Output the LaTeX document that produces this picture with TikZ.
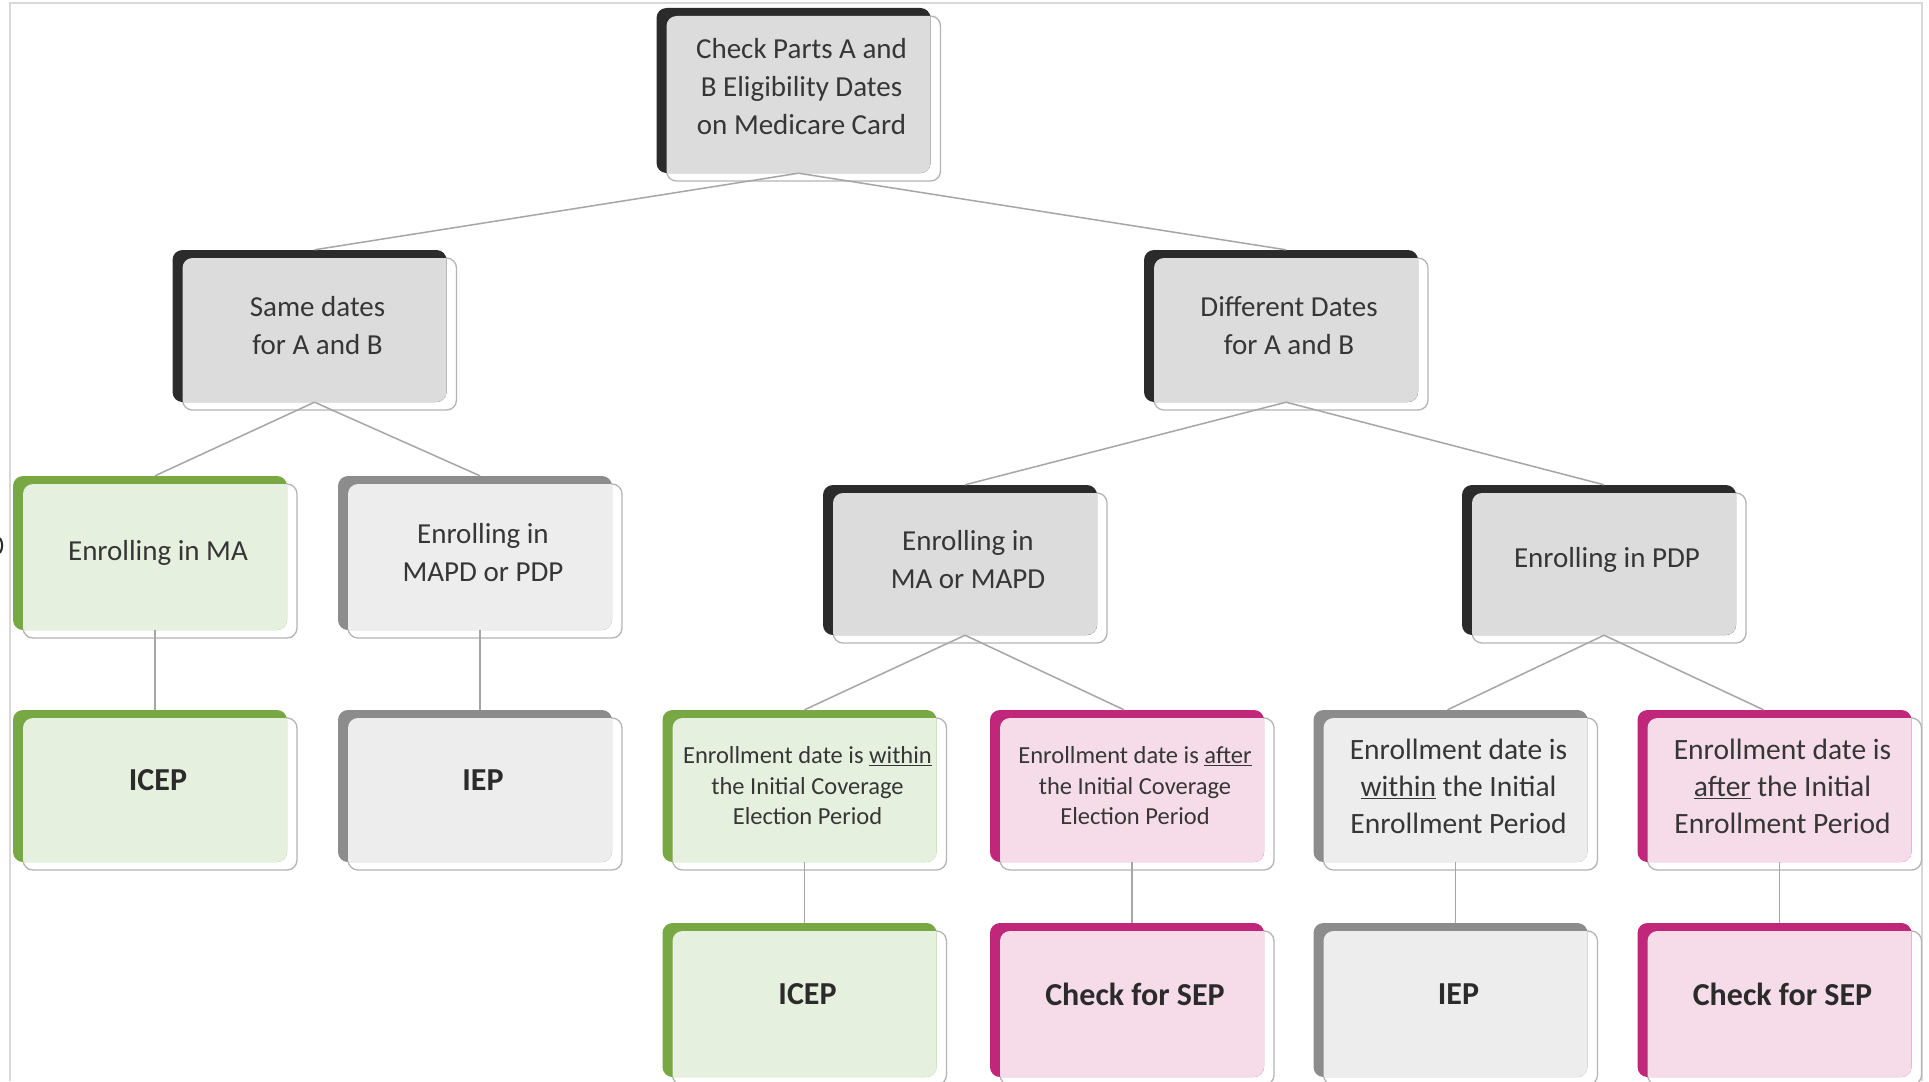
\documentclass[tikz,border=0pt]{standalone}
\usepackage{fontspec}
\setmainfont{Carlito}
\definecolor{dk}{HTML}{2B2B2B}
\definecolor{gf}{HTML}{DCDCDC}
\definecolor{gd}{HTML}{8C8C8C}
\definecolor{lg}{HTML}{EDEDED}
\definecolor{grd}{HTML}{78A844}
\definecolor{grf}{HTML}{E6F0DE}
\definecolor{pkd}{HTML}{C0267A}
\definecolor{pkf}{HTML}{F5DCE8}
\definecolor{ln}{HTML}{A6A6A6}
\definecolor{ol}{HTML}{B4B4B4}
\definecolor{tx}{HTML}{363636}
\definecolor{fr}{HTML}{D8D8D8}
\tikzset{
  outl/.style={fill=white, draw=ol, line width=1.3pt, rounded corners=10pt},
  cbox/.style 2 args={rectangle, rounded corners=10pt, minimum width=274pt,
    inner sep=0pt, fill=#1, draw=none,
    path picture={\fill[#2, rounded corners=10pt]
      ([shift={(10pt,-8pt)}]path picture bounding box.north west) rectangle
      ([shift={(10pt,-8pt)}]path picture bounding box.south east);}},
  txt/.style={align=center, text=tx, inner sep=0pt},
  tnorm/.style={font=\fontsize{29}{38}\selectfont},
  ttop/.style={font=\fontsize{29}{38}\selectfont, yshift=4pt},
  tsmall/.style={font=\fontsize{24.5}{30.5}\selectfont},
  tmid/.style={font=\fontsize{29.5}{37}\selectfont},
  tbold/.style={font=\fontsize{32}{38}\selectfont\bfseries, text=dk, yshift=6pt},
  conn/.style={draw=ln, line width=1.5pt}
}
% name, cx, cy, height, dark, light, text style, text
\newcommand\cbx[8]{%
  \path[outl] (#2-127,#3-#4/2+8) rectangle (#2+147,#3+#4/2+8);
  \node[cbox={#5}{#6}, minimum height=#4pt] (#1) at (#2,#3) {};
  \node[txt, #7] (#1-t) at ([xshift=8pt]#1.center) {#8};
}
\begin{document}
\begin{tikzpicture}[x=1pt, y=-1pt]
\useasboundingbox (0,0) rectangle (1929,1081);
\fill[white] (0,0) rectangle (1929,1081);
\draw[fr, line width=2pt] (10,1081) -- (10,3) -- (1922,3) -- (1922,1081);
\draw[dk, line width=2pt] (0,538) to[bend left=30] (0,553);

\cbx{top}{793.5}{90.5}{165}{dk}{gf}{ttop}{Check Parts A and\\B Eligibility Dates\\on Medicare Card}
\cbx{same}{309.5}{326}{152}{dk}{gf}{tnorm}{Same dates\\for A and B}
\cbx{diff}{1281}{326}{152}{dk}{gf}{tnorm}{Different Dates\\for A and B}
\cbx{ma}{150}{553}{154}{grd}{grf}{tnorm}{Enrolling in MA}
\cbx{mapd}{475}{553}{154}{gd}{lg}{tnorm}{Enrolling in\\MAPD or PDP}
\cbx{mam}{960}{560}{150}{dk}{gf}{tnorm}{Enrolling in\\MA or MAPD}
\cbx{pdp}{1599}{560}{150}{dk}{gf}{tnorm}{Enrolling in PDP}
\cbx{icepa}{150}{786}{152}{grd}{grf}{tbold}{ICEP}
\cbx{iepa}{475}{786}{152}{gd}{lg}{tbold}{IEP}
\cbx{wa}{799.5}{786}{152}{grd}{grf}{tsmall}{Enrollment date is \underline{within}\\the Initial Coverage\\Election Period}
\cbx{aa}{1127}{786}{152}{pkd}{pkf}{tsmall}{Enrollment date is \underline{after}\\the Initial Coverage\\Election Period}
\cbx{wb}{1450.5}{786}{152}{gd}{lg}{tmid}{Enrollment date is\\\underline{within} the Initial\\Enrollment Period}
\cbx{ab}{1774.5}{786}{152}{pkd}{pkf}{tmid}{Enrollment date is\\\underline{after} the Initial\\Enrollment Period}
\cbx{icepb}{799.5}{1000}{154}{grd}{grf}{tbold}{ICEP}
\cbx{sepa}{1127}{1000}{154}{pkd}{pkf}{tbold}{Check for SEP}
\cbx{iepb}{1450.5}{1000}{154}{gd}{lg}{tbold}{IEP}
\cbx{sepb}{1774.5}{1000}{154}{pkd}{pkf}{tbold}{Check for SEP}

\draw[conn] ([xshift=5pt]top.south) -- ([xshift=5pt]same.north);
\draw[conn] ([xshift=5pt]top.south) -- ([xshift=5pt]diff.north);
\draw[conn] ([xshift=5pt]same.south) -- ([xshift=5pt]ma.north);
\draw[conn] ([xshift=5pt]same.south) -- ([xshift=5pt]mapd.north);
\draw[conn] ([xshift=5pt]diff.south) -- ([xshift=5pt]mam.north);
\draw[conn] ([xshift=5pt]diff.south) -- ([xshift=5pt]pdp.north);
\draw[conn] ([xshift=5pt]ma.south) -- ([xshift=5pt]icepa.north);
\draw[conn] ([xshift=5pt]mapd.south) -- ([xshift=5pt]iepa.north);
\draw[conn] ([xshift=5pt]mam.south) -- ([xshift=5pt]wa.north);
\draw[conn] ([xshift=5pt]mam.south) -- ([xshift=-3pt]aa.north);
\draw[conn] ([xshift=5pt]pdp.south) -- ([xshift=-3pt]wb.north);
\draw[conn] ([xshift=5pt]pdp.south) -- ([xshift=-11pt]ab.north);
\draw[conn] ([xshift=5pt]wa.south) -- ([xshift=5pt]icepb.north);
\draw[conn] ([xshift=5pt]aa.south) -- ([xshift=5pt]sepa.north);
\draw[conn] ([xshift=5pt]wb.south) -- ([xshift=5pt]iepb.north);
\draw[conn] ([xshift=5pt]ab.south) -- ([xshift=5pt]sepb.north);
\end{tikzpicture}
\end{document}
